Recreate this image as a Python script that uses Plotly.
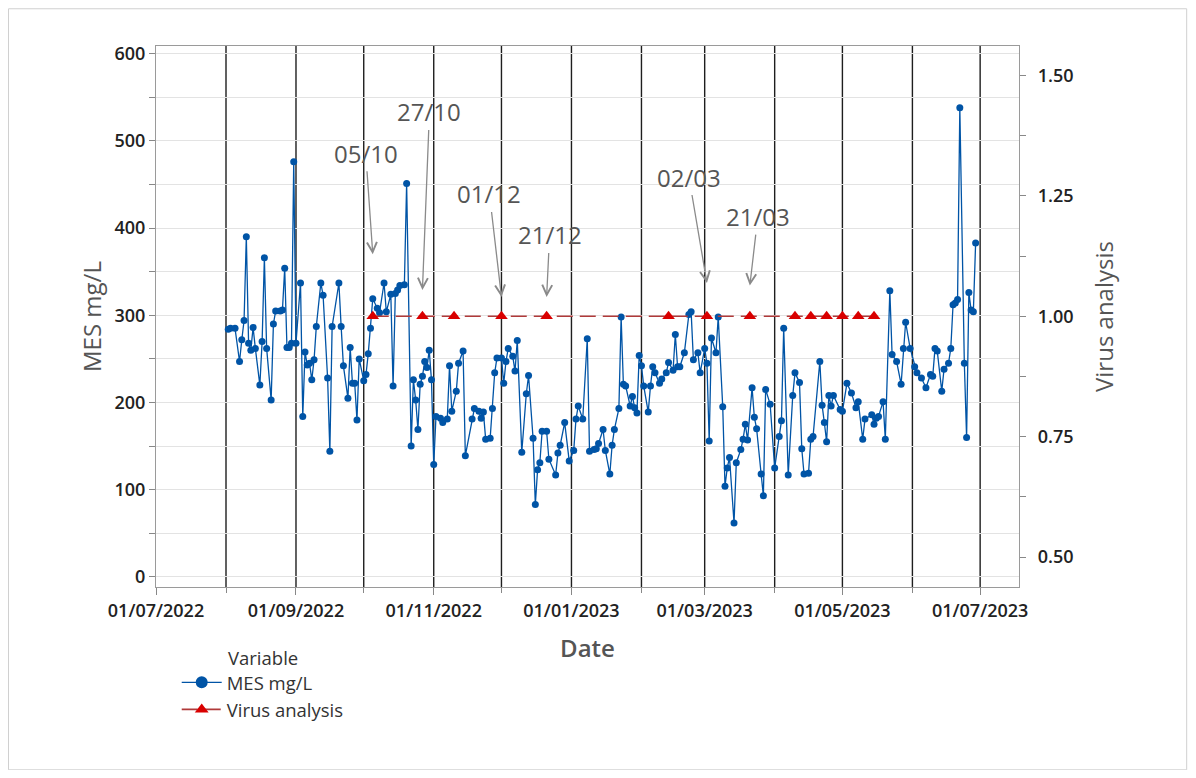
import pandas as pd
import plotly.graph_objects as go

START = pd.Timestamp("2022-07-01")

# MES sampling days (offset in days from 01/07/2022) and values (mg/L)
mes_day_offset = [
    32, 33, 35, 37, 38, 39, 40, 41, 42, 43, 44, 46, 47, 48, 49, 51, 52, 53, 55, 56,
    57, 58, 59, 60, 61, 62, 64, 65, 66, 67, 68, 69, 70, 71, 73, 74, 76, 77, 78, 81,
    82, 83, 85, 86, 87, 88, 89, 90, 92, 93, 94, 95, 96, 98, 99, 101, 102, 104, 105, 106,
    107, 108, 110, 111, 113, 114, 115, 116, 117, 118, 119, 120, 121, 122, 123, 124, 126, 127, 129, 130,
    131, 133, 134, 136, 137, 140, 141, 143, 144, 145, 146, 148, 149, 150, 151, 153, 154, 155, 156, 158,
    159, 160, 162, 164, 165, 167, 168, 169, 170, 171, 173, 174, 177, 178, 179, 181, 183, 185, 186, 187,
    189, 191, 192, 194, 195, 196, 198, 199, 201, 202, 203, 205, 206, 207, 208, 210, 211, 212, 213, 214,
    215, 216, 218, 219, 220, 221, 223, 224, 226, 227, 229, 230, 231, 232, 234, 236, 237, 238, 240, 241,
    243, 244, 245, 246, 248, 249, 251, 252, 253, 254, 256, 257, 259, 260, 261, 262, 264, 265, 266, 268,
    269, 270, 272, 274, 276, 277, 278, 280, 282, 283, 285, 286, 287, 289, 290, 291, 294, 295, 296, 297,
    298, 299, 300, 303, 304, 306, 308, 310, 311, 313, 314, 317, 318, 319, 320, 322, 323, 325, 326, 328,
    330, 331, 332, 334, 336, 337, 339, 341, 343, 344, 345, 346, 348, 349, 351, 352, 353, 354, 355, 356,
    358, 359, 360, 361, 362, 363,
]
mes_values = [
    284, 285, 285, 247, 272, 294, 390, 268, 260, 286, 262, 220, 270, 366, 262, 203, 290, 305, 305, 306,
    354, 263, 263, 268, 476, 268, 337, 184, 258, 243, 245, 226, 249, 287, 337, 323, 228, 144, 287, 337,
    287, 242, 205, 263, 222, 222, 180, 250, 225, 232, 256, 285, 319, 308, 303, 337, 304, 324, 219, 325,
    329, 334, 335, 451, 150, 226, 203, 169, 221, 230, 247, 240, 260, 226, 129, 184, 182, 177, 181, 242,
    190, 213, 245, 259, 139, 181, 193, 190, 182, 189, 158, 159, 193, 234, 251, 251, 222, 247, 262, 253,
    236, 271, 143, 210, 231, 159, 83, 123, 131, 167, 167, 135, 117, 142, 151, 177, 133, 145, 181, 196,
    181, 273, 144, 146, 147, 153, 169, 145, 118, 151, 169, 193, 298, 221, 219, 196, 207, 194, 188, 254,
    242, 219, 189, 219, 241, 234, 222, 227, 234, 246, 237, 278, 241, 241, 257, 301, 304, 249, 257, 234,
    262, 245, 156, 274, 257, 298, 195, 104, 125, 137, 62, 131, 146, 158, 175, 157, 217, 183, 170, 118,
    93, 215, 198, 125, 161, 179, 285, 117, 208, 234, 223, 147, 118, 119, 158, 161, 247, 197, 177, 155,
    208, 196, 208, 192, 190, 222, 211, 194, 201, 158, 181, 186, 175, 182, 184, 201, 158, 328, 255, 247,
    221, 262, 292, 262, 241, 234, 228, 217, 232, 230, 262, 259, 213, 238, 245, 262, 312, 314, 318, 538,
    245, 160, 326, 306, 304, 383,
]

# Virus analysis sampling dates (value 1 = analysis performed)
virus_dates = [
    "2022-10-05", "2022-10-27", "2022-11-10", "2022-12-01", "2022-12-21",
    "2023-02-13", "2023-03-02", "2023-03-21", "2023-04-10", "2023-04-17",
    "2023-04-24", "2023-05-01", "2023-05-08", "2023-05-15",
]
virus_values = [1] * len(virus_dates)

# Highlighted dates (annotations)
annot_labels = ["05/10", "27/10", "01/12", "21/12", "02/03", "21/03"]
annot_dates = ["2022-10-05", "2022-10-27", "2022-12-01", "2022-12-21", "2023-03-02", "2023-03-21"]
annot_y = [370, 329, 321, 321, 337, 334]
annot_ax = [-7, 7, -12, 3, -18, 8]
annot_ay = [-101, -178, -103, -62, -106, -69]

mes_dates = [START + pd.Timedelta(days=d) for d in mes_day_offset]

FONT = "Open Sans"
BLUE = "#0054A6"
VLINE = "#B03A3A"
VMARK = "#D90000"

fig = go.Figure()
fig.add_trace(go.Scatter(
    x=mes_dates, y=mes_values, name="MES mg/L", mode="lines+markers",
    line=dict(color=BLUE, width=1.3),
    marker=dict(color=BLUE, size=7, symbol="circle"), showlegend=False,
))
fig.add_trace(go.Scatter(
    x=pd.to_datetime(virus_dates), y=virus_values, name="Virus analysis",
    mode="lines+markers", yaxis="y2",
    line=dict(color=VLINE, width=1.6, dash="16px,7px"),
    marker=dict(color=VMARK, size=11, symbol="triangle-up"), showlegend=False,
))
# legend entries (larger symbols as in the original legend)
fig.add_trace(go.Scatter(
    x=[None], y=[None], name="MES mg/L", mode="lines+markers",
    line=dict(color=BLUE, width=1.3), marker=dict(color=BLUE, size=12, symbol="circle"),
))
fig.add_trace(go.Scatter(
    x=[None], y=[None], name="Virus analysis", mode="lines+markers",
    line=dict(color=VLINE, width=1.6, dash="16px,7px"),
    marker=dict(color=VMARK, size=12, symbol="triangle-up"),
))

shapes = []
for m in pd.date_range("2022-08-01", "2023-07-01", freq="MS"):
    shapes.append(dict(type="line", xref="x", yref="paper", x0=m, x1=m, y0=0, y1=1,
                       line=dict(color="#1e1e1e", width=1.4), layer="below"))
# outer frame of the graph
shapes.append(dict(type="rect", xref="paper", yref="paper",
                   x0=-0.1709, x1=1.1943, y0=-0.3379, y1=1.0688,
                   line=dict(color="#d0d0d0", width=1)))

annotations = []
for lab, d, yv, ax, ay in zip(annot_labels, annot_dates, annot_y, annot_ax, annot_ay):
    annotations.append(dict(
        x=pd.Timestamp(d), y=yv, xref="x", yref="y", text=lab,
        showarrow=True, ax=ax, ay=ay, arrowhead=5, arrowsize=1.5, arrowwidth=1.3,
        arrowcolor="#8a8a8a", font=dict(family=FONT, size=24, color="#555555"),
    ))
annotations.append(dict(
    x=0.081, y=-0.131, xref="paper", yref="paper", text="Variable", showarrow=False,
    xanchor="left", yanchor="middle", font=dict(family=FONT, size=18.5, color="#333333"),
))

fig.update_layout(
    width=1180, height=762,
    margin=dict(l=148, r=169, t=38, b=183),
    paper_bgcolor="white", plot_bgcolor="white",
    font=dict(family=FONT, color="#333333"),
    shapes=shapes, annotations=annotations,
    showlegend=True,
    legend=dict(x=0.024, y=-0.142, xanchor="left", yanchor="top",
                font=dict(family=FONT, size=18.5, color="#333333"),
                bgcolor="rgba(0,0,0,0)", tracegroupgap=0, itemwidth=40),
    xaxis=dict(
        range=[pd.Timestamp("2022-07-01"), pd.Timestamp("2023-07-18 05:00")],
        tick0="2022-07-01", dtick="M2", tickformat="%d/%m/%Y",
        ticks="outside", ticklen=7, tickcolor="#888888",
        minor=dict(dtick="M1", tick0="2022-07-01", ticks="outside", ticklen=5, tickcolor="#888888"),
        showgrid=False, zeroline=False,
        showline=True, linecolor="#9a9a9a", linewidth=1.2, mirror=True,
        tickfont=dict(family=FONT, size=18, color="#222222", weight=600),
        title=dict(text="Date", standoff=19,
                   font=dict(family=FONT, size=24, color="#555555", weight=600)),
    ),
    yaxis=dict(
        range=[-11.5, 608.7], tick0=0, dtick=100,
        ticks="outside", ticklen=6, tickcolor="#888888",
        showgrid=True, gridcolor="#e3e3e3", gridwidth=1,
        minor=dict(dtick=50, ticks="outside", ticklen=6, tickcolor="#888888",
                   showgrid=True, gridcolor="#e3e3e3", gridwidth=1),
        zeroline=False,
        showline=True, linecolor="#9a9a9a", linewidth=1.2, mirror=True,
        tickfont=dict(family=FONT, size=18, color="#222222", weight=600),
        title=dict(text="MES mg/L", standoff=6,
                   font=dict(family=FONT, size=24, color="#555555")),
    ),
    yaxis2=dict(
        overlaying="y", side="right",
        range=[0.438, 1.561], tick0=0.5, dtick=0.25, tickformat=".2f",
        ticks="outside", ticklen=6, tickcolor="#888888", ticklabelstandoff=8,
        minor=dict(dtick=0.125, ticks="outside", ticklen=6, tickcolor="#888888", showgrid=False),
        showgrid=False, zeroline=False,
        showline=True, linecolor="#9a9a9a", linewidth=1.2,
        tickfont=dict(family=FONT, size=18, color="#222222", weight=600),
        title=dict(text="Virus analysis", standoff=23,
                   font=dict(family=FONT, size=24, color="#555555")),
    ),
)

fig.write_html("out.html")
